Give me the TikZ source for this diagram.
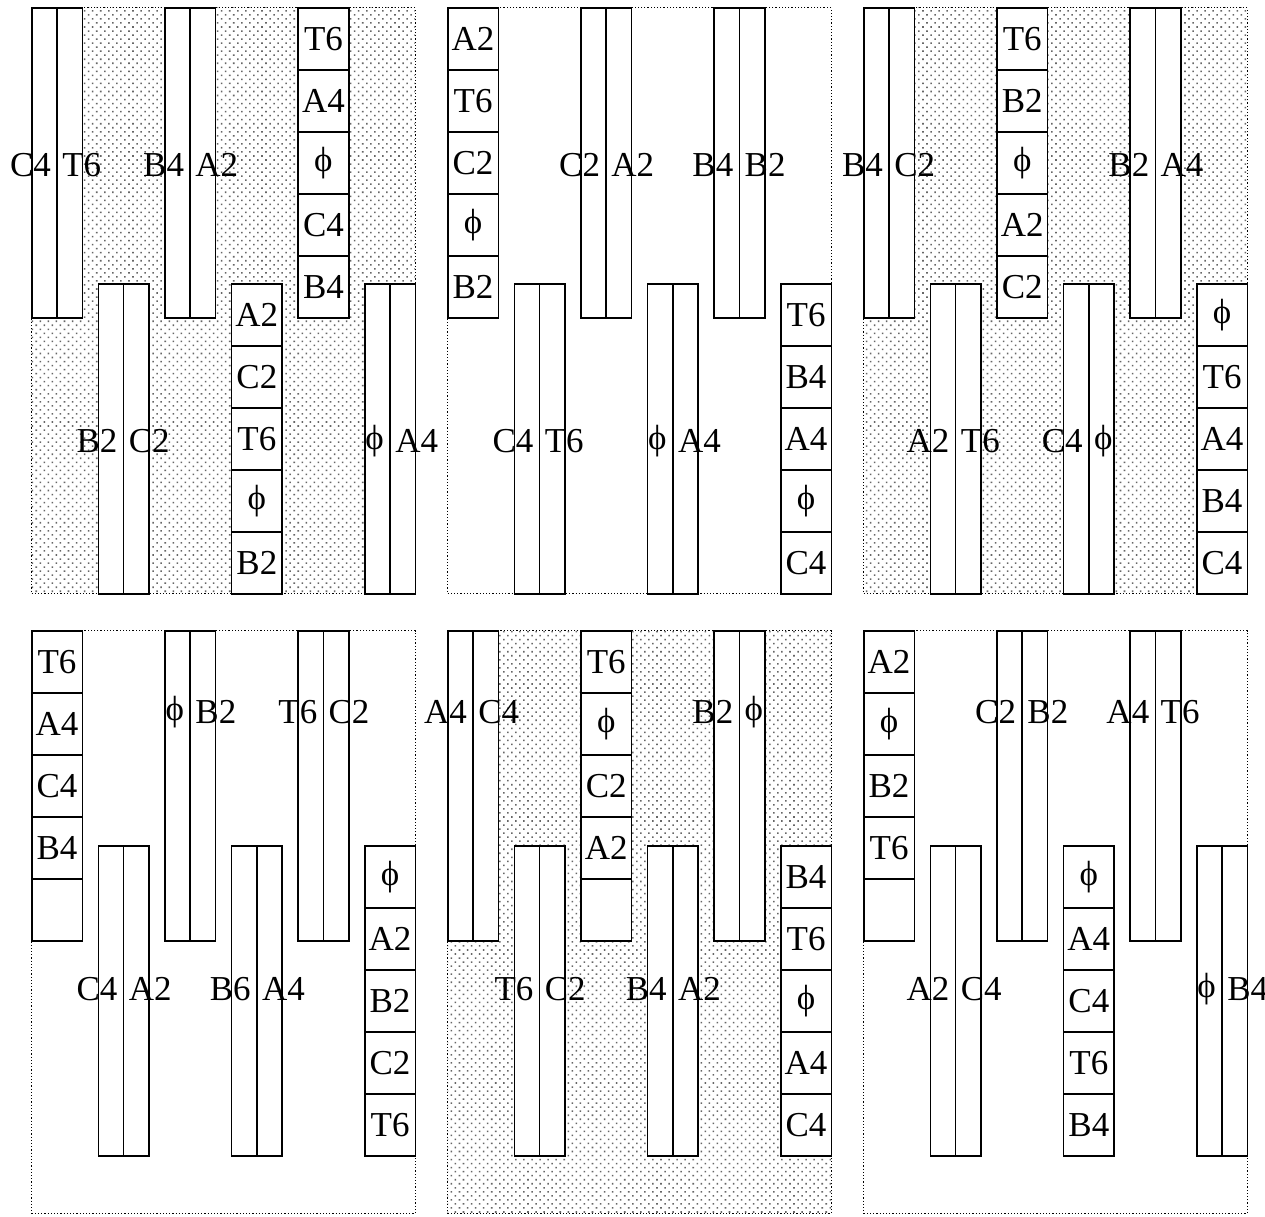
\documentclass[tikz,border=0pt]{standalone}
\usepackage{fontspec}
\setmainfont{Liberation Serif}
\usetikzlibrary{patterns.meta}

\begin{document}
\begin{tikzpicture}[x=1pt,y=-1pt,
  every node/.style={font=\fontsize{35}{40}\selectfont,inner sep=0pt},
  panel/.style={draw,dotted,line width=1.2pt,anchor=north west,
    minimum width=383.5pt},
  rowa/.style={panel,minimum height=586pt},
  rowb/.style={panel,minimum height=583pt},
  speckled/.style={pattern={Dots[distance=5.7pt,angle=45,radius=1.1pt]},
    pattern color=black!60},
  bar/.style={draw,solid,fill=white,line width=1.6pt,anchor=north west,
    minimum width=50.5pt,minimum height=310pt},
  cell/.style={bar,minimum height=62pt}]
\useasboundingbox (0,0) rectangle (1265,1216);
\node[rowa,speckled] (p1) at (31,7) {};
\node[rowa] (p2) at (447,7) {};
\node[rowa,speckled] (p3) at (863,7) {};
\node[rowb] (p4) at (31,630) {};
\node[rowb,speckled] (p5) at (447,630) {};
\node[rowb] (p6) at (863,630) {};
% split bars
\foreach \p/\k/\s/\l/\a/\b in {
  p1/0/0/158/C4/T6, p1/1/276/158/B2/C2, p1/2/0/158/B4/A2, p1/5/276/158/ϕ/A4,
  p2/1/276/158/C4/T6, p2/2/0/158/C2/A2, p2/3/276/158/ϕ/A4, p2/4/0/158/B4/B2,
  p3/0/0/158/B4/C2, p3/1/276/158/A2/T6, p3/3/276/158/C4/ϕ, p3/4/0/158/B2/A4,
  p4/1/215/144/C4/A2, p4/2/0/82/ϕ/B2, p4/3/215/144/B6/A4, p4/4/0/82/T6/C2,
  p5/0/0/82/A4/C4, p5/1/215/144/T6/C2, p5/3/215/144/B4/A2, p5/4/0/82/B2/ϕ,
  p6/1/215/144/A2/C4, p6/2/0/82/C2/B2, p6/4/0/82/A4/T6, p6/5/215/144/ϕ/B4}{
  \node[bar] (\p-\k) at ([shift={(66.6*\k,\s)}]\p.north west) {};
  \draw[line width=1.6pt] (\p-\k.north) -- (\p-\k.south);
  \node[anchor=east] (\p-\k-l) at ([shift={(-6,\l)}]\p-\k.north) {\a};
  \node[anchor=west] (\p-\k-r) at ([shift={(5,\l)}]\p-\k.north) {\b};
}
% stacks of five
\foreach \p/\k/\s/\ca/\cb/\cc/\cd/\ce in {
  p1/3/276/A2/C2/T6/ϕ/B2, p1/4/0/T6/A4/ϕ/C4/B4,
  p2/0/0/A2/T6/C2/ϕ/B2, p2/5/276/T6/B4/A4/ϕ/C4,
  p3/2/0/T6/B2/ϕ/A2/C2, p3/5/276/ϕ/T6/A4/B4/C4,
  p4/0/0/T6/A4/C4/B4/{}, p4/5/215/ϕ/A2/B2/C2/T6,
  p5/2/0/T6/ϕ/C2/A2/{}, p5/5/215/B4/T6/ϕ/A4/C4,
  p6/0/0/A2/ϕ/B2/T6/{}, p6/3/215/ϕ/A4/C4/T6/B4}{
  \foreach \t [count=\i from 0] in {\ca,\cb,\cc,\cd,\ce}
    \node[cell] (\p-\k-\i) at ([shift={(66.6*\k,\s+62*\i)}]\p.north west) {\t};
}
\end{tikzpicture}
\end{document}
